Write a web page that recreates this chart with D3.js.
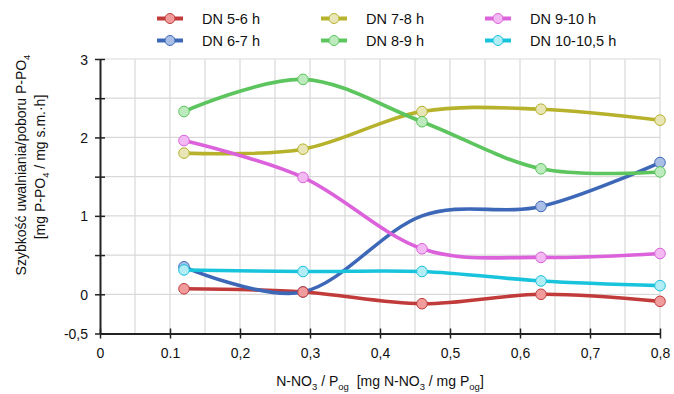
<!DOCTYPE html>
<html><head><meta charset="utf-8">
<script src="https://cdn.jsdelivr.net/npm/d3@7"></script>
<style>
body{margin:0;background:#fff;}
svg text{font-family:"Liberation Sans",Arial,sans-serif;fill:#111;}
</style></head>
<body><svg id="c" width="674" height="394"></svg>
<script>
// ---- data ----
const xValues = [0.12, 0.29, 0.46, 0.63, 0.8];
const seriesNames = ["DN 5-6 h", "DN 6-7 h", "DN 7-8 h", "DN 8-9 h", "DN 9-10 h", "DN 10-10,5 h"];
const dn56   = [0.07, 0.03, -0.12, 0.00, -0.09];
const dn67   = [0.35, 0.03, 1.00, 1.12, 1.68];
const dn78   = [1.80, 1.85, 2.33, 2.36, 2.22];
const dn89   = [2.33, 2.74, 2.20, 1.60, 1.56];
const dn910  = [1.96, 1.49, 0.58, 0.47, 0.52];
const dn1010 = [0.31, 0.29, 0.29, 0.17, 0.11];
const dn67Markers = [true, true, false, true, true]; // no marker drawn at 0.46 in source
const xTicks = [0, 0.1, 0.2, 0.3, 0.4, 0.5, 0.6, 0.7, 0.8];
const xTickLabels = ["0", "0.1", "0,2", "0,3", "0,4", "0,5", "0,6", "0,7", "0,8"];
const yTicks = [-0.5, 0, 0.5, 1, 1.5, 2, 2.5, 3];
const yTickLabels = {"-0.5": "-0,5", "0": "0", "1": "1", "2": "2", "3": "3"};

const lineColors = ["#c23b3b", "#3d68b8", "#b7b22c", "#5cc55e", "#db62db", "#18c3dc"];
const fillColors = ["#f09c9c", "#aabfe6", "#e8e6b6", "#bdebbd", "#f3b9f3", "#b2ecf4"];
const allValues = [dn56, dn67, dn78, dn89, dn910, dn1010];

const svg = d3.select("#c");
const x = d3.scaleLinear().domain([0, 0.8]).range([100, 660]);
const y = d3.scaleLinear().domain([-0.5, 3]).range([333.5, 59]);

// grid
const grid = svg.append("g");
grid.selectAll("line.v").data(d3.range(1, 17).map(i => i * 0.05)).enter().append("line")
  .attr("x1", d => x(d)).attr("x2", d => x(d)).attr("y1", y(3)).attr("y2", y(-0.5))
  .attr("stroke", "#d9d9d9").attr("stroke-width", 1.2);
grid.selectAll("line.h").data(yTicks.filter(v => v > -0.5)).enter().append("line")
  .attr("x1", x(0)).attr("x2", x(0.8)).attr("y1", d => y(d)).attr("y2", d => y(d))
  .attr("stroke", "#d9d9d9").attr("stroke-width", 1.2);

// axes
const axY = svg.append("g").attr("transform", `translate(${x(0)},0)`)
  .call(d3.axisLeft(y).tickValues(yTicks).tickSize(0).tickFormat(d => yTickLabels[String(d)] || ""));
axY.select(".domain").attr("stroke", "#222").attr("stroke-width", 2);
axY.selectAll(".tick line").attr("x1", -5).attr("x2", 5).attr("stroke", "#222").attr("stroke-width", 1.5);
axY.selectAll(".tick text").filter(d => !yTickLabels[String(d)]).remove();
axY.selectAll(".tick text").attr("x", -12).attr("dy", "0.36em").style("font-size", "14px")
  .style("font-family", "Liberation Sans, Arial, sans-serif").attr("fill", "#111");

const axX = svg.append("g").attr("transform", `translate(0,${y(-0.5)})`)
  .call(d3.axisBottom(x).tickValues(xTicks).tickSize(0).tickFormat((d, i) => xTickLabels[i]));
axX.select(".domain").attr("stroke", "#222").attr("stroke-width", 2.2);
axX.selectAll(".tick line").attr("y1", -5).attr("y2", 5).attr("stroke", "#222").attr("stroke-width", 1.5);
axX.selectAll(".tick text").attr("y", 15).attr("dy", "0.71em").style("font-size", "14px")
  .style("font-family", "Liberation Sans, Arial, sans-serif").attr("fill", "#111");

// lines
const lineGen = d3.line().x((d, i) => x(xValues[i])).y(d => y(d)).curve(d3.curveCardinal.tension(0));
const linesG = svg.append("g");
allValues.forEach((vals, s) => {
  linesG.append("path").datum(vals).attr("d", lineGen).attr("fill", "none")
    .attr("stroke", lineColors[s]).attr("stroke-width", 3.6).attr("stroke-linecap", "round");
});
// markers
const markerOrder = [1, 0, 2, 3, 4, 5];
const mG = svg.append("g");
markerOrder.forEach(s => {
  const vals = allValues[s];
  mG.selectAll(null).data(vals.map((v, i) => ({v, i})).filter(d => s !== 1 || dn67Markers[d.i]))
    .enter().append("circle")
    .attr("cx", d => x(xValues[d.i])).attr("cy", d => y(d.v)).attr("r", 5.3)
    .attr("fill", fillColors[s]).attr("stroke", lineColors[s]).attr("stroke-width", 1);
});

// legend
const legX = [170, 334, 498], legY = [18.5, 40.5];
seriesNames.forEach((name, s) => {
  const col = Math.floor(s / 2), row = s % 2;
  const g = svg.append("g").attr("transform", `translate(${legX[col]},${legY[row]})`);
  g.append("line").attr("x1", -13).attr("x2", 13).attr("stroke", lineColors[s]).attr("stroke-width", 4);
  g.append("circle").attr("r", 5).attr("fill", fillColors[s]).attr("stroke", lineColors[s]).attr("stroke-width", 1);
  g.append("text").attr("x", 32).attr("y", 5).style("font-size", "14.5px").text(name);
});

// titles with subscripts
function addParts(t, parts) {
  let shifted = false;
  parts.forEach(p => {
    if (p.sub) {
      t.append("tspan").attr("dy", shifted ? 0 : 4).style("font-size", "9.5px").text(p.sub);
      shifted = true;
    } else {
      t.append("tspan").attr("dy", shifted ? -4 : 0).text(p.t);
      shifted = false;
    }
  });
}
const xt = svg.append("text").attr("x", 380).attr("y", 386).attr("text-anchor", "middle")
  .style("font-size", "14px");
addParts(xt, [{t: "N-NO"}, {sub: "3"}, {t: " / P"}, {sub: "og"}, {t: "\u00a0\u00a0[mg N-NO"}, {sub: "3"}, {t: " / mg P"}, {sub: "og"}, {t: "]"}]);

const yt1 = svg.append("text").attr("transform", "translate(26,165) rotate(-90)").attr("text-anchor", "middle")
  .style("font-size", "14px");
addParts(yt1, [{t: "Szybkość uwalniania/poboru P-PO"}, {sub: "4"}]);
const yt2 = svg.append("text").attr("transform", "translate(45,167) rotate(-90)").attr("text-anchor", "middle")
  .style("font-size", "14px");
addParts(yt2, [{t: "[mg P-PO"}, {sub: "4"}, {t: " / mg s.m.\u00b7h]"}]);
</script></body></html>
